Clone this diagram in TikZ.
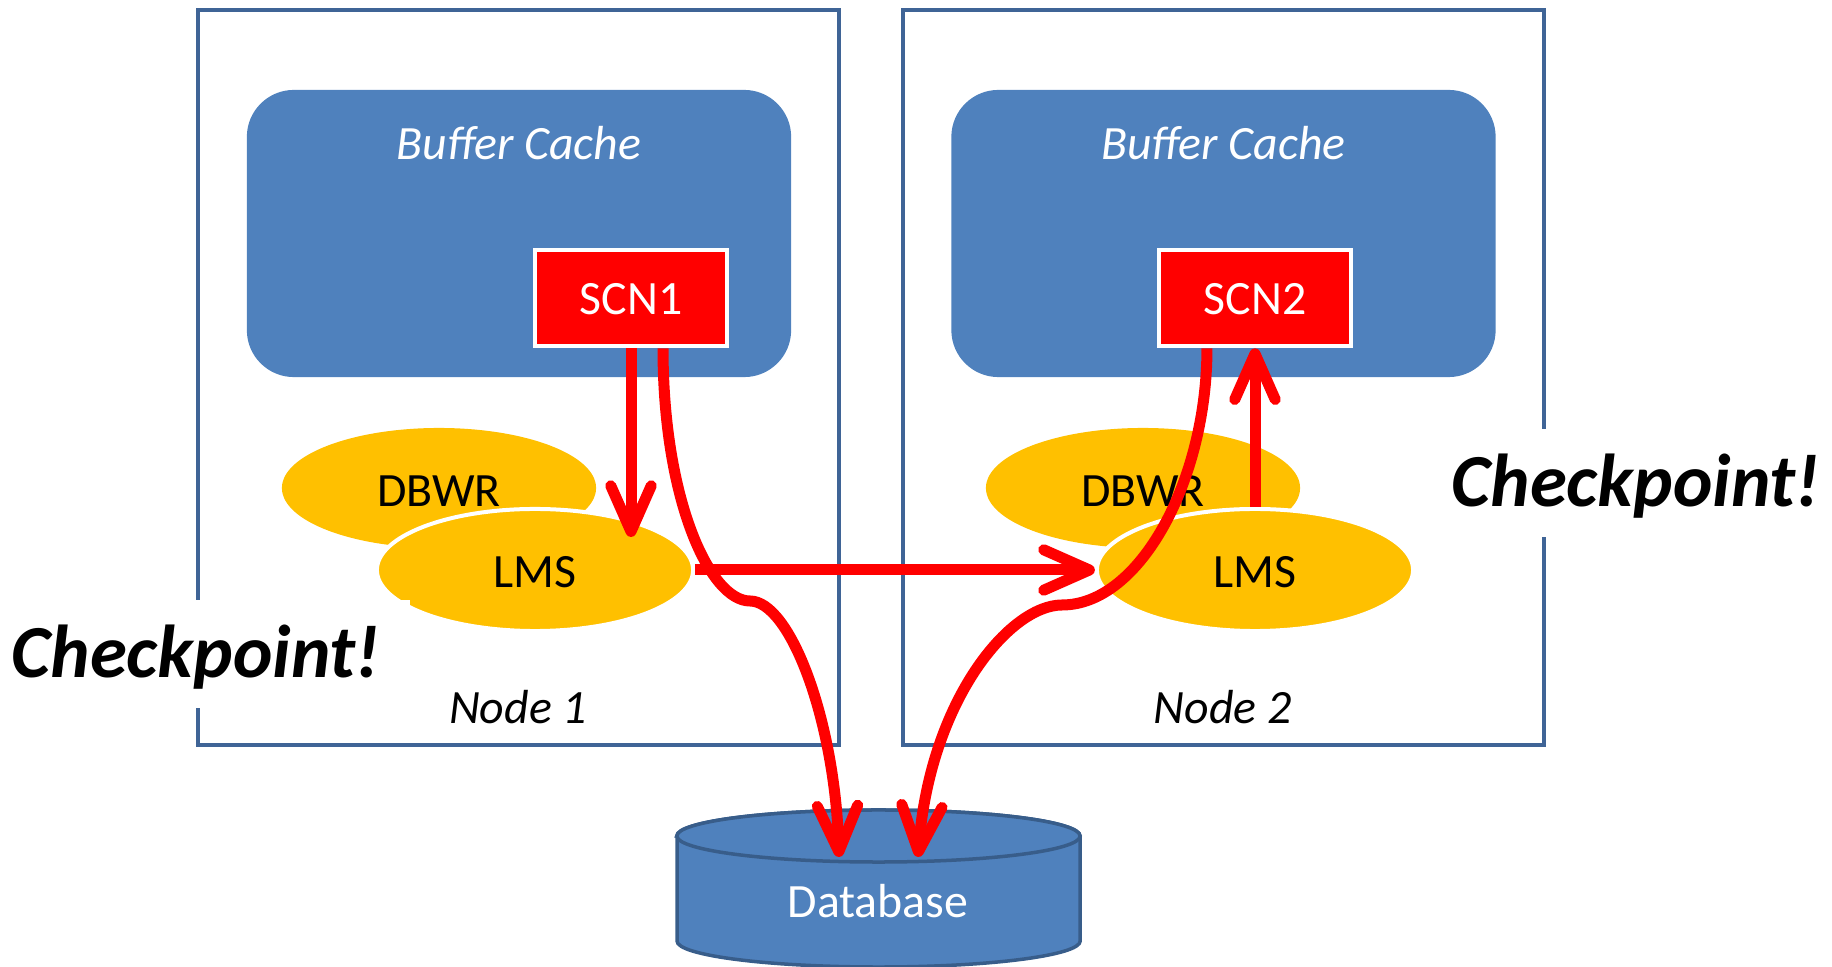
\documentclass[tikz,border=0pt]{standalone}
\usepackage{fontspec}
\setmainfont{Carlito}
\usetikzlibrary{shapes.geometric,arrows.meta,calc}

\definecolor{cacheblue}{HTML}{4F81BD}
\definecolor{rimblue}{HTML}{385D8A}
\definecolor{framegray}{HTML}{3F6496}
\definecolor{procgold}{HTML}{FFC000}
\definecolor{flowred}{HTML}{FF0000}

\begin{document}
\begin{tikzpicture}[x=0.01cm, y=-0.01cm,
  every node/.style={font=\fontsize{13.6}{16}\selectfont, inner sep=0pt},
  hostframe/.style={draw=framegray, line width=0.04cm, minimum width=6.41cm, minimum height=7.35cm},
  cachebox/.style={fill=cacheblue, rounded corners=0.47cm, minimum width=5.44cm, minimum height=2.87cm},
  cachetitle/.style={text=white, font=\fontsize{13.6}{16}\selectfont\itshape, anchor=base},
  scnbox/.style={fill=flowred, draw=white, line width=0.045cm, text=white, minimum width=1.92cm, minimum height=0.96cm,
    text height=0.33cm, text depth=0pt},
  procbg/.style={ellipse, fill=procgold, minimum width=3.14cm, minimum height=1.2cm, text height=0.36cm, text depth=0pt},
  procfg/.style={ellipse, fill=procgold, draw=white, line width=0.04cm, minimum width=3.16cm, minimum height=1.22cm,
    text height=0.34cm, text depth=0pt},
  hostlabel/.style={font=\fontsize{13.6}{16}\selectfont\itshape, anchor=base},
  shout/.style={fill=white, font=\fontsize{21.3}{24}\selectfont\bfseries\itshape, anchor=base,
    inner xsep=0.3cm, inner ysep=0pt, text height=0.78cm, text depth=0.30cm},
  flow/.style={draw=flowred, line width=0.11cm, -{Straight Barb[round, length=13pt, width=11.5pt]}}
]
\useasboundingbox (0,0) rectangle (1832,967);

% host frames
\node[hostframe] (host1) at (518.5,377.5) {};
\node[hostframe, minimum width=6.405cm] (host2) at (1223.25,377.5) {};

% buffer caches
\node[cachebox] (cache1) at (519,233.5) {};
\node[cachebox] (cache2) at (1223.5,233.5) {};
\node[cachetitle] (cachetxt1) at (519,160) {Buffer Cache};
\node[cachetitle] (cachetxt2) at (1223.5,160) {Buffer Cache};

% SCN boxes
\node[scnbox] (scn1) at (631,298) {SCN1};
\node[scnbox] (scn2) at (1255,298) {SCN2};

% background processes
\node[procbg] (dbwr1) at (439,488) {DBWR};
\node[procbg] (dbwr2) at (1143,488) {DBWR};
\node[procfg] (lms1) at (535,570) {LMS};
\node[procfg] (lms2) at (1255,570) {LMS};

% host captions
\node[hostlabel] (cap1) at (518,724) {Node 1};
\node[hostlabel] (cap2) at (1222.6,724) {Node 2};

% checkpoint callouts
\node[shout] (cp1) at (196,678) {Checkpoint!};
\node[shout] (cp2) at (1636,507) {Checkpoint!};

% database cylinder
\path[fill=cacheblue, draw=rimblue, line width=0.035cm]
  (677,836) -- (677,941)
  arc[start angle=180, end angle=360, x radius=2.015cm, y radius=0.26cm]
  -- (1080,836)
  arc[start angle=0, end angle=180, x radius=2.015cm, y radius=0.26cm] -- cycle;
\draw[fill=cacheblue, draw=rimblue, line width=0.035cm] (878.5,836) ellipse[x radius=2.015cm, y radius=0.26cm];
\node[text=white, anchor=base] (db) at (878,918) {Database};
\coordinate (dbL) at (839,857);
\coordinate (dbR) at (918,857);

% message flows
\draw[flow, shorten >=0.33cm] (scn1.south) -- (scn1.south |- lms1.center);
\draw[flow] ([xshift=0.32cm]scn1.south) .. controls (663,500) and (710,601) .. (750,601)
  .. controls (790,601) and (835,720) .. (dbL);
\draw[flow] ([xshift=-0.48cm]scn2.south) .. controls (1207,480) and (1140,605) .. (1062,605)
  .. controls (1010,605) and (930,700) .. (dbR);
\draw[flow] (lms2.north) -- (scn2.south);
\draw[flow] (lms1.east) -- (lms2.west);
\end{tikzpicture}
\end{document}
